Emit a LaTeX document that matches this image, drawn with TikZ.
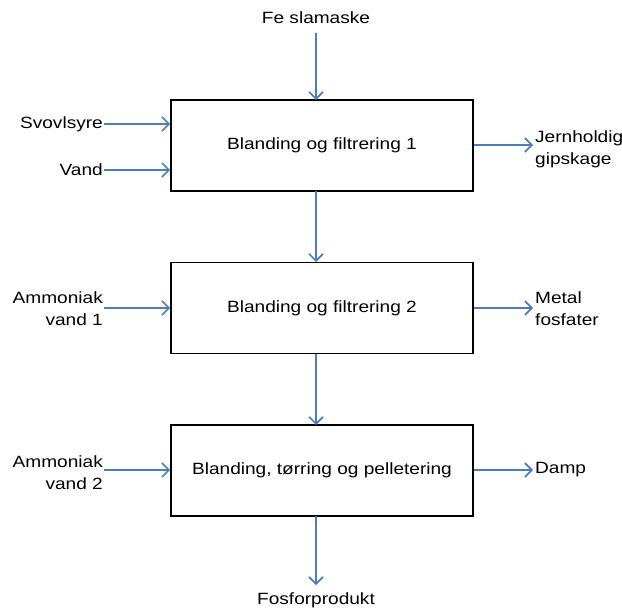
\documentclass[tikz,border=0pt]{standalone}
\usepackage{fontspec}
\setmainfont{Liberation Sans}[FakeStretch=1.17]
\usetikzlibrary{arrows.meta}
\definecolor{flowblue}{RGB}{74,126,187}
\tikzset{
  procbox/.style={draw=black, line width=1.8pt, minimum width=302pt, minimum height=91pt, inner sep=0pt},
  lbl/.style={inner sep=0pt, font=\fontsize{16.3}{22}\selectfont},
  flow/.style={draw=flowblue, line width=1.6pt, -{Straight Barb[length=7pt,width=14pt,line width=1.6pt]}}
}
\begin{document}
\begin{tikzpicture}[x=1pt,y=1pt]
\useasboundingbox (0,0) rectangle (622,-610);
% boxes
\node[procbox, lbl] (b1) at (322,-145.5) {\raisebox{-2pt}{Blanding og filtrering 1}};
\node[procbox, lbl] (b2) at (322,-308) {\raisebox{-2pt}{Blanding og filtrering 2}};
\node[procbox, lbl] (b3) at (322,-470.5) {\raisebox{-2pt}{Blanding, tørring og pelletering}};
% labels
\node[lbl] (fe) at (316,-18) {Fe slamaske};
\node[lbl, anchor=east] (svo) at (103,-124) {Svovlsyre};
\node[lbl, anchor=east] (van) at (103,-170) {Vand};
\node[lbl, anchor=west, align=left] (jern) at (535,-149) {Jernholdig\\gipskage};
\node[lbl, anchor=east, align=right] (am1) at (103,-309) {Ammoniak\\vand 1};
\node[lbl, anchor=west, align=left] (met) at (535,-309) {Metal\\fosfater};
\node[lbl, anchor=east, align=right] (am2) at (103,-473) {Ammoniak\\vand 2};
\node[lbl, anchor=west] (damp) at (535,-470) {Damp};
\node[lbl] (fos) at (316,-600) {Fosforprodukt};
% coordinates
\coordinate (feS) at (316,-33);
\coordinate (b1N) at (316,-100);
\coordinate (b1S) at (316,-191);
\coordinate (b2N) at (316,-262);
\coordinate (b2S) at (316,-354);
\coordinate (b3N) at (316,-425);
\coordinate (b3S) at (316,-516);
\coordinate (fosN) at (316,-585);
\coordinate (svoE) at (104,-124);
\coordinate (vanE) at (104,-170);
\coordinate (am1E) at (104,-308);
\coordinate (am2E) at (104,-470);
\coordinate (jernW) at (533,-145);
\coordinate (metW) at (533,-308);
\coordinate (dampW) at (533,-470);
% arrows
\draw[flow] (feS) -- (b1N);
\draw[flow] (b1S) -- (b2N);
\draw[flow] (b2S) -- (b3N);
\draw[flow] (b3S) -- (fosN);
\draw[flow] (svoE) -- (b1.west |- svoE);
\draw[flow] (vanE) -- (b1.west |- vanE);
\draw[flow] (am1E) -- (b2.west |- am1E);
\draw[flow] (am2E) -- (b3.west |- am2E);
\draw[flow] (b1.east |- jernW) -- (jernW);
\draw[flow] (b2.east |- metW) -- (metW);
\draw[flow] (b3.east |- dampW) -- (dampW);
\end{tikzpicture}
\end{document}
